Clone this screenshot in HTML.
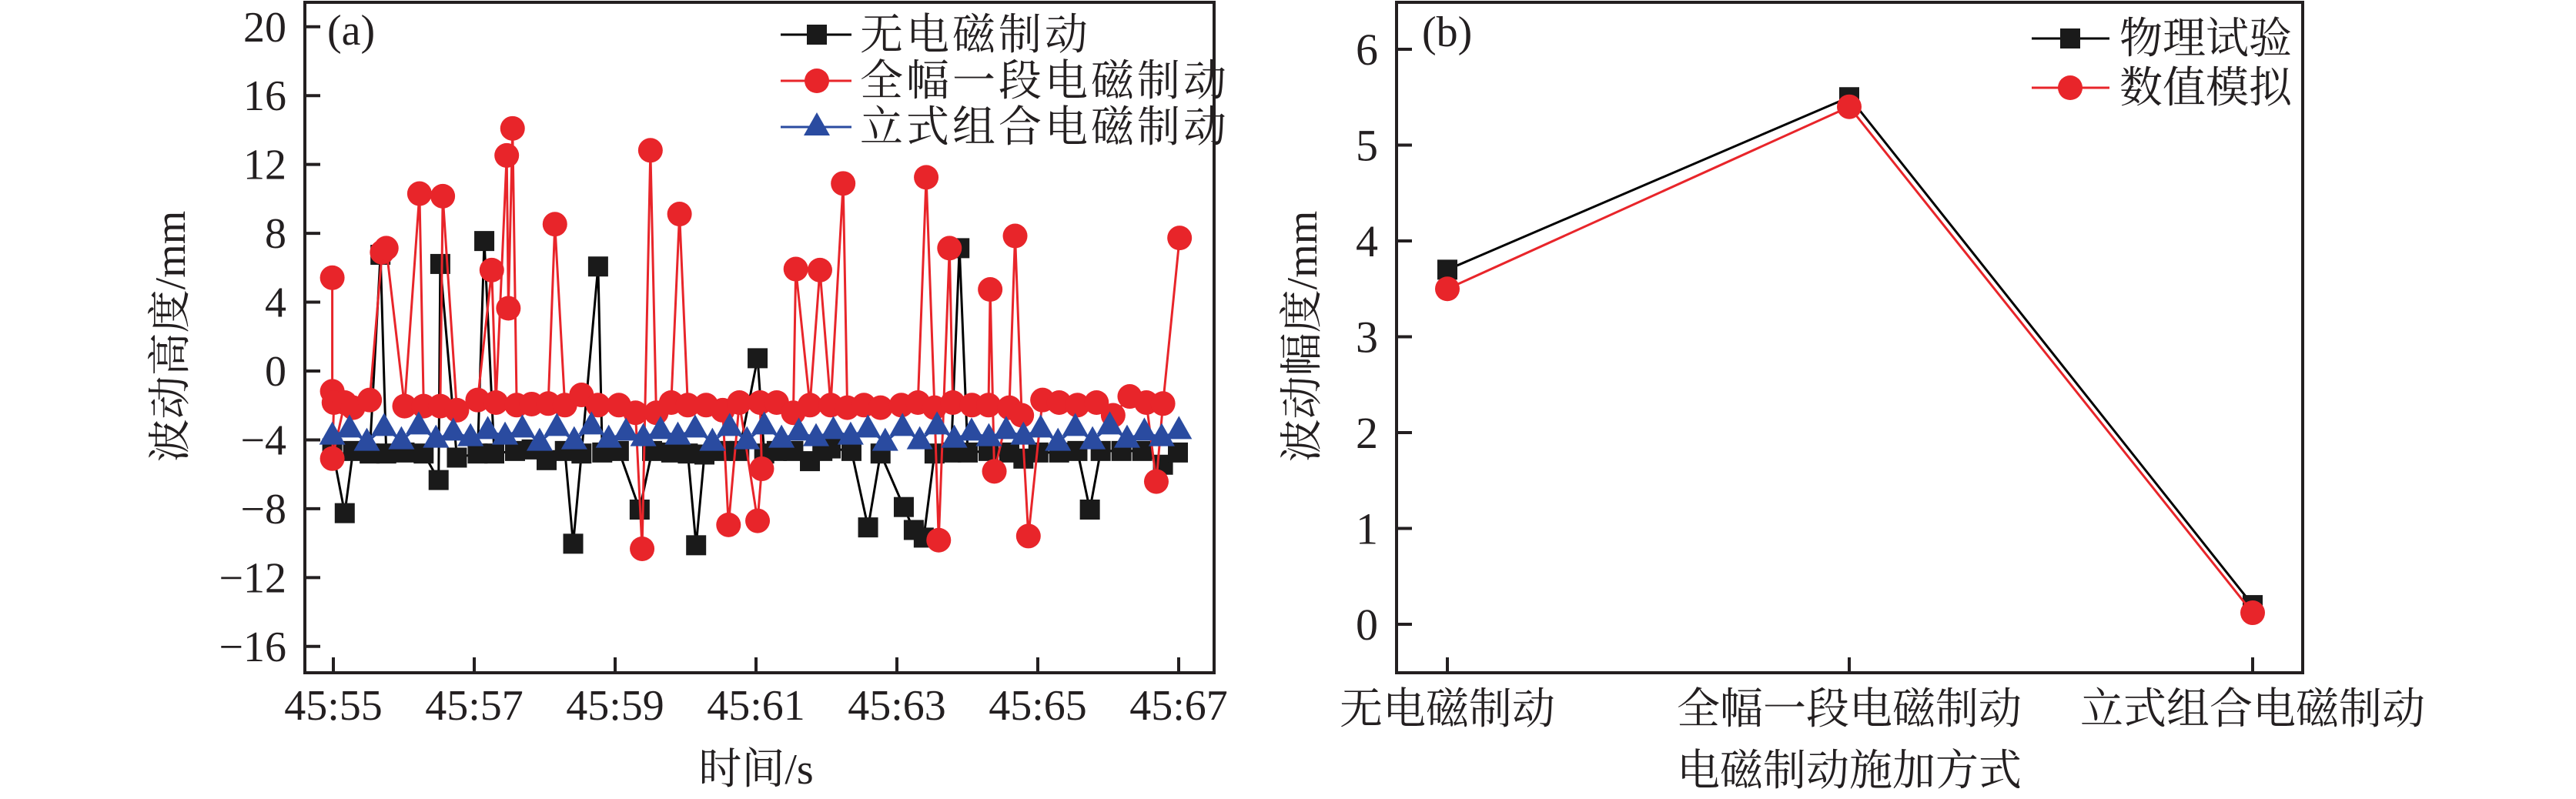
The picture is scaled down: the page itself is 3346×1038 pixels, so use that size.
<!DOCTYPE html>
<html><head><meta charset="utf-8"><style>
html,body{margin:0;padding:0;background:#fff;}
svg{display:block}
text{font-family:"Liberation Serif","Noto Serif CJK SC","Noto Sans CJK SC",serif;fill:#231f20}
</style></head><body>
<svg id="s" width="3346" height="1038" viewBox="0 0 3346 1038" xmlns="http://www.w3.org/2000/svg">
<g id="a"></g>
<!-- left axes -->
<rect x="396" y="3" width="1181" height="871" fill="none" stroke="#231f20" stroke-width="4"/>
<g id="lt" stroke="#231f20" stroke-width="4"></g>
<g font-size="56" text-anchor="end" id="ly"></g>
<g font-size="56" text-anchor="middle" id="lx"></g>
<text x="425" y="58" font-size="56">(a)</text>
<text font-size="56" text-anchor="middle" transform="translate(240,437) rotate(-90)">波动高度/mm</text>
<text x="982" y="1018" font-size="56" text-anchor="middle">时间/s</text>
<!-- right axes -->
<rect x="1814" y="3" width="1177" height="871" fill="none" stroke="#231f20" stroke-width="4"/>
<g id="rt" stroke="#231f20" stroke-width="4"></g>
<g font-size="58" text-anchor="end" id="ry"></g>
<text x="1847" y="60" font-size="56">(b)</text>
<text font-size="56" text-anchor="middle" transform="translate(1710,437) rotate(-90)">波动幅度/mm</text>
<g font-size="56" text-anchor="middle">
<text x="1880" y="940">无电磁制动</text>
<text x="2402" y="940">全幅一段电磁制动</text>
<text x="2926" y="940">立式组合电磁制动</text>
<text x="2402" y="1020">电磁制动施加方式</text>
</g>
<!-- legends -->
<g font-size="56">
<line x1="1014" y1="45" x2="1106" y2="45" stroke="#000" stroke-width="3"/><rect x="1048" y="32" width="26" height="26" fill="#1a1a1a"/>
<text x="1117" y="64" letter-spacing="4">无电磁制动</text>
<line x1="1014" y1="105" x2="1106" y2="105" stroke="#e8252a" stroke-width="3"/><circle cx="1061" cy="105" r="16" fill="#e8252a"/>
<text x="1117" y="124" letter-spacing="4">全幅一段电磁制动</text>
<line x1="1014" y1="165" x2="1106" y2="165" stroke="#2a4ba0" stroke-width="3"/><path d="M1061,146 L1078,176 L1044,176Z" fill="#2a4ba0"/>
<text x="1117" y="184" letter-spacing="4">立式组合电磁制动</text>
<line x1="2639" y1="50" x2="2740" y2="50" stroke="#000" stroke-width="3"/><rect x="2676" y="37" width="26" height="26" fill="#1a1a1a"/>
<text x="2753" y="69">物理试验</text>
<line x1="2639" y1="114" x2="2740" y2="114" stroke="#e8252a" stroke-width="3"/><circle cx="2689" cy="114" r="16" fill="#e8252a"/>
<text x="2753" y="133">数值模拟</text>
</g>
</svg>
<script>
var NS="http://www.w3.org/2000/svg";
function el(p,t,a,txt){var e=document.createElementNS(NS,t);for(var k in a)e.setAttribute(k,a[k]);if(txt!==undefined)e.textContent=txt;document.getElementById(p).appendChild(e);return e;}
// left ticks
for(var v=-16;v<=20;v+=4){var y=482-v*22.36;el('lt','line',{x1:396,y1:y,x2:416,y2:y});el('ly','text',{x:372,y:y+19},(v<0?'−':'')+Math.abs(v));}
for(var i=0;i<7;i++){var x=433+i*183;el('lt','line',{x1:x,y1:874,x2:x,y2:854});el('lx','text',{x:x,y:935},'45:'+(55+2*i));}
// right ticks
for(var v=0;v<=6;v++){var y=811-v*124.5;el('rt','line',{x1:1814,y1:y,x2:1834,y2:y});el('ry','text',{x:1790,y:y+20},''+v);}
[1880,2402,2926].forEach(function(x){el('rt','line',{x1:x,y1:874,x2:x,y2:854});});
function cv(p){return [p[0]*1.079,p[1]*0.662];}
var red=[[400,545],[400,768],[402,790],[400,900],[415,790],[425,800],[445,785],[460,495],[465,487],[487,797],[505,380],[510,797],[530,797],[533,385],[550,805],[575,785],[592,530],[597,790],[610,305],[612,605],[617,252],[622,795],[640,793],[660,792],[668,440],[680,795],[700,775],[720,795],[745,795],[765,810],[773,1077],[783,295],[790,810],[808,790],[818,420],[828,795],[850,795],[870,805],[877,1030],[890,790],[912,1022],[917,920],[915,790],[935,790],[955,810],[958,528],[975,795],[987,530],[1000,795],[1015,360],[1020,800],[1040,795],[1060,800],[1085,795],[1105,790],[1115,348],[1125,800],[1130,1060],[1143,487],[1147,790],[1170,795],[1190,795],[1192,568],[1197,925],[1215,800],[1222,463],[1230,815],[1238,1052],[1255,785],[1275,790],[1297,795],[1320,790],[1340,815],[1360,778],[1380,790],[1392,945],[1400,792],[1420,467]].map(cv);
var blk=[[400,880],[415,1007],[425,885],[445,890],[458,500],[465,890],[487,888],[510,890],[528,942],[530,518],[550,898],[575,890],[583,473],[595,890],[620,885],[640,882],[658,903],[680,885],[690,1067],[700,890],[720,523],[725,888],[745,885],[770,1000],[785,885],[808,888],[828,890],[838,1070],[848,892],[870,885],[890,885],[912,703],[920,890],[935,885],[955,885],[975,905],[990,885],[1000,880],[1025,885],[1045,1035],[1060,890],[1088,995],[1100,1040],[1112,1055],[1125,890],[1145,888],[1155,487],[1165,888],[1190,885],[1215,888],[1232,900],[1250,888],[1275,888],[1297,885],[1312,1000],[1325,885],[1350,885],[1375,885],[1400,912],[1418,888]].map(cv);
var blu=[];for(var i=0;i<=49;i++){var zx=400+i*20.8;var zy=(i%2?842:862)+((i*7)%5-2)*3;blu.push(cv([zx,zy]));}
function pl(pts,c){el('a','polyline',{points:pts.map(function(p){return p.join(',')}).join(' '),fill:'none',stroke:c,'stroke-width':3,'stroke-linejoin':'round'});}
pl(blk,'#000');blk.forEach(function(p){el('a','rect',{x:p[0]-13,y:p[1]-13,width:26,height:26,fill:'#1a1a1a'});});
pl(red,'#e8252a');red.forEach(function(p){el('a','circle',{cx:p[0],cy:p[1],r:16,fill:'#e8252a'});});
pl(blu,'#2a4ba0');blu.forEach(function(p){el('a','path',{d:'M'+p[0]+','+(p[1]-19)+' l17,30 l-34,0Z',fill:'#2a4ba0'});});
var xs=[1880,2402,2926],b=[3.7,5.5,0.2],r=[3.5,5.4,0.12];
var bp=xs.map(function(x,i){return [x,811-b[i]*124.5]}),rp=xs.map(function(x,i){return [x,811-r[i]*124.5]});
pl(bp,'#000');bp.forEach(function(p){el('a','rect',{x:p[0]-13,y:p[1]-13,width:26,height:26,fill:'#1a1a1a'});});
pl(rp,'#e8252a');rp.forEach(function(p){el('a','circle',{cx:p[0],cy:p[1],r:16,fill:'#e8252a'});});
</script>
</body></html>
